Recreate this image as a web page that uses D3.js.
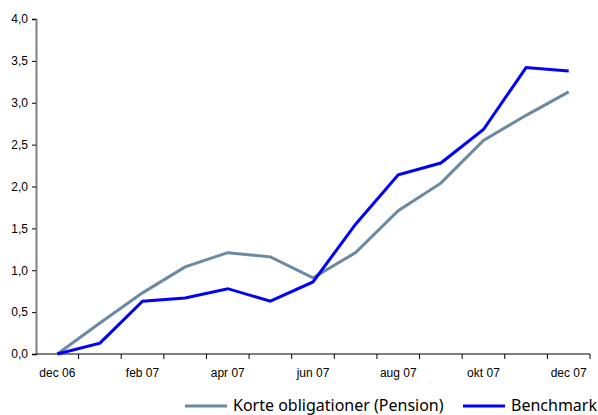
<!DOCTYPE html>
<html lang="da">
<head>
<meta charset="UTF-8">
<title>Korte obligationer</title>
<script src="https://d3js.org/d3.v7.min.js"></script>
<style>
  body { margin: 0; background: #fff; }
  .lab { font-family: "Liberation Sans", Arial, sans-serif; font-size: 12px; fill: #000; }
  .legend text { font-family: "Noto Sans", sans-serif; font-size: 16px; fill: #000; }
</style>
</head>
<body>
<svg id="chart" width="598" height="415"></svg>
<script>
var months = ["dec 06", "jan 07", "feb 07", "mar 07", "apr 07", "maj 07", "jun 07",
              "jul 07", "aug 07", "sep 07", "okt 07", "nov 07", "dec 07"];
var korte = [0.0, 0.37, 0.73, 1.04, 1.21, 1.16, 0.91, 1.21, 1.71, 2.04, 2.55, 2.85, 3.13];
var benchmark = [0.0, 0.13, 0.63, 0.67, 0.78, 0.63, 0.86, 1.55, 2.14, 2.28, 2.68, 3.42, 3.38];
var yTicks = [0, 0.5, 1, 1.5, 2, 2.5, 3, 3.5, 4];

var margin = {top: 19, right: 8, bottom: 61, left: 36},
    width = 598 - margin.left - margin.right,
    height = 415 - margin.top - margin.bottom;

var svg = d3.select("#chart");
var g = svg.append("g").attr("transform", "translate(" + margin.left + "," + margin.top + ")");

var x = d3.scaleBand().domain(months).range([0, width]);
var y = d3.scaleLinear().domain([0, 4]).range([height, 0]);

var fmt = function(d) { return d3.format(".1f")(d).replace(".", ","); };

// y axis
var yAxis = g.append("g")
  .call(d3.axisLeft(y).tickValues(yTicks).tickFormat(fmt).tickSize(4).tickPadding(4));
yAxis.select(".domain").attr("stroke", "#808080").attr("stroke-width", 2);
yAxis.selectAll(".tick text").attr("class", "lab").attr("font-family", null).attr("font-size", null);

// x axis, ticks at category boundaries
var xAxis = g.append("g").attr("transform", "translate(0," + height + ")");
xAxis.append("line").attr("x1", 0).attr("x2", width).attr("stroke", "#000");
xAxis.selectAll(".xt")
  .data(months)
  .enter().append("line")
  .attr("x1", function(d) { return x(d) + x.bandwidth(); })
  .attr("x2", function(d) { return x(d) + x.bandwidth(); })
  .attr("y1", 0).attr("y2", 5)
  .attr("stroke", "#000");
xAxis.selectAll("text")
  .data(months.filter(function(d, i) { return i % 2 === 0; }))
  .enter().append("text")
  .attr("class", "lab")
  .attr("x", function(d) { return x(d) + x.bandwidth() / 2; })
  .attr("y", 23)
  .attr("text-anchor", "middle")
  .text(function(d) { return d; });

var line = d3.line()
  .x(function(d, i) { return x(months[i]) + x.bandwidth() / 2; })
  .y(function(d) { return y(d); });

g.append("path").datum(korte)
  .attr("d", line).attr("fill", "none")
  .attr("stroke", "#6a8aa3").attr("stroke-width", 3);
g.append("path").datum(benchmark)
  .attr("d", line).attr("fill", "none")
  .attr("stroke", "#0000ff").attr("stroke-width", 3);

// legend
var legend = svg.append("g").attr("class", "legend");
var items = [
  {name: "Korte obligationer (Pension)", color: "#6a8aa3", x: 185},
  {name: "Benchmark", color: "#0000ff", x: 463}
];
items.forEach(function(it) {
  legend.append("line")
    .attr("x1", it.x).attr("x2", it.x + 42)
    .attr("y1", 406).attr("y2", 406)
    .attr("stroke", it.color).attr("stroke-width", 3);
  legend.append("text")
    .attr("x", it.x + 48).attr("y", 411)
    .text(it.name);
});
</script>
</body>
</html>
